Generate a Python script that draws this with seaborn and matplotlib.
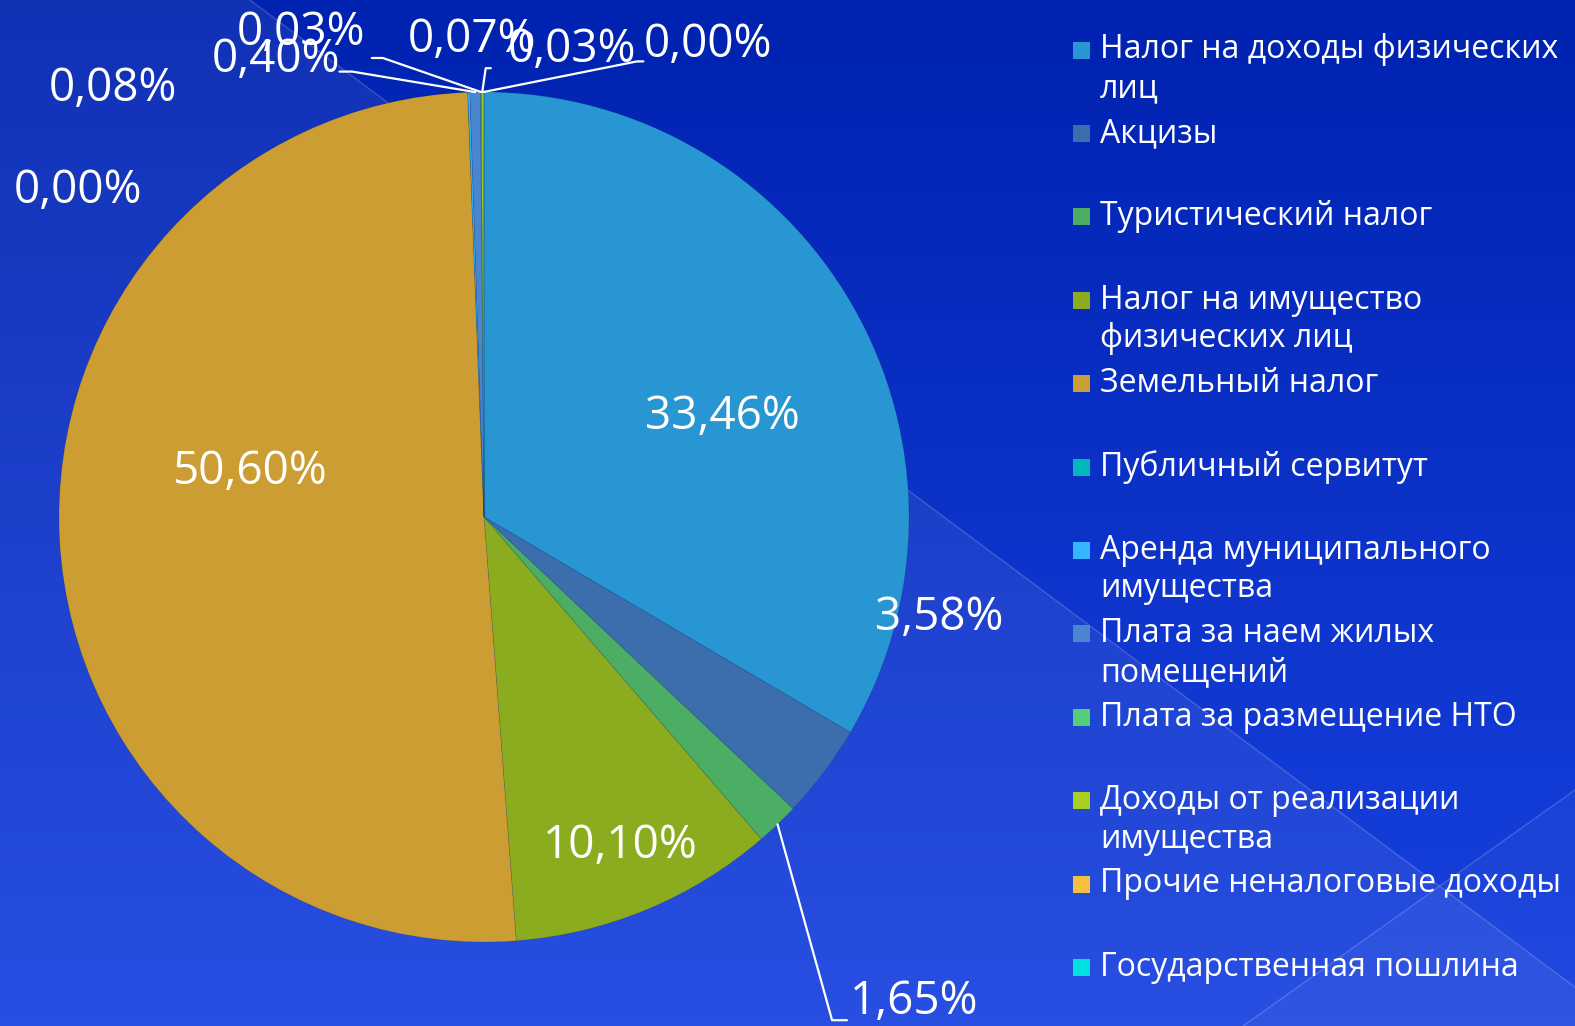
import numpy as np
import matplotlib
matplotlib.use("Agg")
import matplotlib.pyplot as plt
import seaborn as sns
from matplotlib.patches import Polygon, Rectangle

# ---- данные ----
categories = [
    "Налог на доходы физических\nлиц",
    "Акцизы",
    "Туристический налог",
    "Налог на имущество\nфизических лиц",
    "Земельный налог",
    "Публичный сервитут",
    "Аренда муниципального\nимущества",
    "Плата за наем жилых\nпомещений",
    "Плата за размещение НТО",
    "Доходы от реализации\nимущества",
    "Прочие неналоговые доходы",
    "Государственная пошлина",
]
shares = [33.46, 3.58, 1.65, 10.10, 50.60, 0.00, 0.08, 0.40, 0.03, 0.07, 0.03, 0.00]
pct_labels = ["33,46%", "3,58%", "1,65%", "10,10%", "50,60%", "0,00%",
              "0,08%", "0,40%", "0,03%", "0,07%", "0,03%", "0,00%"]

colors = ["#2896D2", "#3C6EAE", "#4BAE64", "#8CAC20", "#CB9D33", "#00B8B8",
          "#33B5FF", "#4A86D0", "#55CC77", "#A8D020", "#F5C040", "#00E0E0"]

# ---- оформление ----
sns.set_theme(style="white")
plt.rcParams['font.family'] = ['Open Sans', 'DejaVu Sans']

W, H = 1575, 1026
CX, CY, R = 484, 517, 425   # центр и радиус круга, пиксели

# положения подписей (в единицах радиуса, относительно центра)
label_pos = [(0.562, 0.235), (1.071, -0.238), (1.012, -1.141), (0.320, -0.774),
             (-0.553, 0.106), (-0.955, 0.767), (-0.874, 1.008), (-0.489, 1.075),
             (-0.431, 1.139), (-0.028, 1.122), (0.207, 1.099), (0.527, 1.111)]
# выноски: точки ломаной от края сектора
leaders = {
    2: [(0.819, -1.184), (0.854, -1.184)],
    7: [(-0.31, 1.048), (-0.34, 1.048)],
    8: [(-0.238, 1.080), (-0.264, 1.080)],
    9: [(0.004, 1.056), (0.016, 1.056)],
    10: [(0.36, 1.072), (0.375, 1.072)],
}

fig = plt.figure(figsize=(W / 100, H / 100), dpi=100)

# фон: градиент + полупрозрачные треугольники
bg = fig.add_axes([0, 0, 1, 1])
grad = np.linspace(0, 1, 256)[:, None]
top = np.array([0x00, 0x22, 0xB0]) / 255
bot = np.array([0x18, 0x42, 0xE0]) / 255
img = top[None, None, :] * (1 - grad[..., None]) + bot[None, None, :] * grad[..., None]
bg.imshow(np.repeat(img, 2, axis=1), extent=[0, W, H, 0], aspect="auto", zorder=0)
bg.set_xlim(0, W)
bg.set_ylim(H, 0)
bg.axis("off")
slope1 = 0.745
y_end = (W - 250) * slope1
bg.add_patch(Polygon([(250, 0), (W, y_end), (W, H), (0, H), (0, 0)],
                     closed=True, facecolor="white", alpha=0.07, lw=0, zorder=1))
bg.plot([250, W], [0, y_end], color="white", alpha=0.18, lw=1, zorder=2)
bg.add_patch(Polygon([(1243, H), (W, 790), (W, H)],
                     closed=True, facecolor="white", alpha=0.04, lw=0, zorder=1))
bg.plot([1243, W], [H, 790], color="white", alpha=0.18, lw=1, zorder=2)

# круговая диаграмма
ax = fig.add_axes([(CX - R) / W, (H - CY - R) / H, 2 * R / W, 2 * R / H])
wedges, _ = ax.pie(shares, colors=colors, startangle=90, counterclock=False,
                   wedgeprops=dict(linewidth=0.6, edgecolor=(0, 0, 0, 0.12)))
ax.set_xlim(-1, 1)
ax.set_ylim(-1, 1)
ax.set_aspect("equal")
ax.axis("off")

for i, (w, lab) in enumerate(zip(wedges, pct_labels)):
    lx, ly = label_pos[i]
    if i in leaders:
        ang = np.deg2rad((w.theta1 + w.theta2) / 2)
        pts = [(np.cos(ang), np.sin(ang))] + leaders[i]
        xs, ys = zip(*pts)
        ax.plot(xs, ys, color="white", lw=1.6, clip_on=False, zorder=5)
    ax.text(lx, ly, lab, color="white", fontsize=33, ha="center", va="center",
            clip_on=False, zorder=6)

# легенда
x_box, x_txt = 1073, 1100
y0, step, lstep = 50, 83.4, 38.5
for i, (cat, col) in enumerate(zip(categories, colors)):
    yc = y0 + i * step
    bg.add_patch(Rectangle((x_box, yc - 8.5), 17, 17, facecolor=col, lw=0, zorder=3))
    for j, line in enumerate(cat.split("\n")):
        bg.text(x_txt, yc + j * lstep, line, color="white", fontsize=23,
                ha="left", va="center", zorder=4)

fig.savefig("out.png", dpi=100)
